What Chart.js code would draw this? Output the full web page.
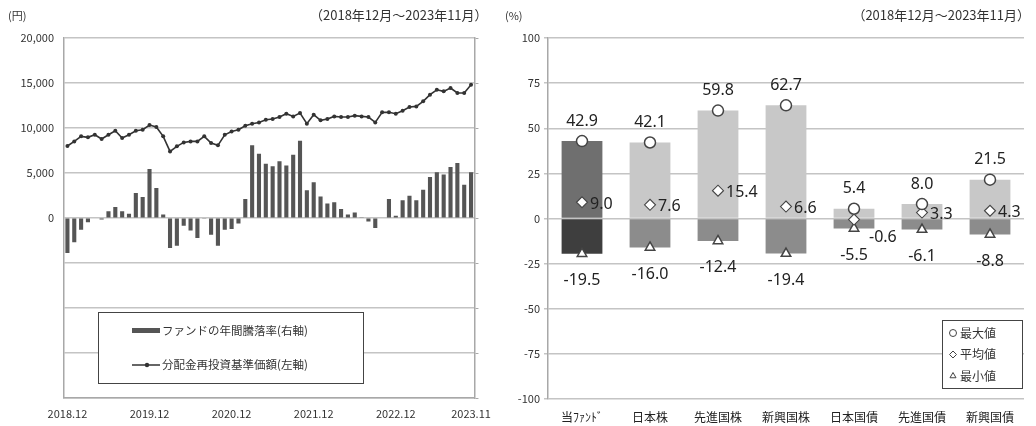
<!DOCTYPE html>
<html>
<head>
<meta charset="utf-8">
<script src="https://cdn.jsdelivr.net/npm/chart.js@4.4.0/dist/chart.umd.min.js"></script>
<style>
  body { margin: 0; background: #fff; }
  #wrap { position: relative; width: 1036px; height: 426px; overflow: hidden;
          font-family: "Noto Sans CJK JP", sans-serif; color: #333; }
  #left { position: absolute; left: 0; top: 0; }
  #right { position: absolute; left: 500px; top: 0; }
  .t { position: absolute; top: 6px; font-size: 13px; line-height: 18px; white-space: nowrap; }
</style>
</head>
<body>
<div id="wrap">
  <canvas id="left" width="500" height="426"></canvas>
  <canvas id="right" width="536" height="426"></canvas>
  <div class="t" style="left:8px;font-size:11px">(円)</div>
  <div class="t" style="left:310px">（2018年12月～2023年11月）</div>
  <div class="t" style="left:505px;font-size:11px">(%)</div>
  <div class="t" style="right:6px">（2018年12月～2023年11月）</div>
</div>
<script>
// --- left: monthly data 2018.12 - 2023.11 ---
const months = [
  '2018.12','2019.01','2019.02','2019.03','2019.04','2019.05','2019.06','2019.07','2019.08','2019.09','2019.10','2019.11',
  '2019.12','2020.01','2020.02','2020.03','2020.04','2020.05','2020.06','2020.07','2020.08','2020.09','2020.10','2020.11',
  '2020.12','2021.01','2021.02','2021.03','2021.04','2021.05','2021.06','2021.07','2021.08','2021.09','2021.10','2021.11',
  '2021.12','2022.01','2022.02','2022.03','2022.04','2022.05','2022.06','2022.07','2022.08','2022.09','2022.10','2022.11',
  '2022.12','2023.01','2023.02','2023.03','2023.04','2023.05','2023.06','2023.07','2023.08','2023.09','2023.10','2023.11'
];
const monthTicks = ['2018.12','2019.12','2020.12','2021.12','2022.12','2023.11'];

// 分配金再投資基準価額 (円, left axis)
const navValues = [
  8000, 8510, 9070, 8960, 9250, 8780, 9250, 9700, 8890, 9250, 9700, 9810,
  10330, 10110, 9070, 7400, 7960, 8400, 8510, 8510, 9070, 8330, 8070, 9250,
  9620, 9810, 10250, 10480, 10620, 10920, 11000, 11220, 11590, 11290, 11670, 10480,
  11480, 10850, 11000, 11290, 11220, 11220, 11370, 11290, 11220, 10620, 11740, 11740,
  11590, 11920, 12330, 12400, 12960, 13700, 14250, 14070, 14440, 13890, 13890, 14810
];
// ファンドの年間騰落率 (%, right axis)
const yearlyReturn = [
  -19.5, -13.5, -6.5, -2.4, -0.3, -0.8, 3.7, 6.1, 3.7, 2.4, 13.9, 11.7,
  27.2, 16.7, 1.9, -16.7, -15.4, -4.3, -6.9, -11.1, -0.2, -9.3, -15.4, -6.5,
  -6.1, -3.1, 10.6, 40.4, 35.7, 30.2, 28.7, 31.5, 29.1, 35.2, 42.9, 15.4,
  19.8, 12.0, 8.0, 8.7, 5.0, 1.9, 3.1, 0.2, -1.9, -5.6, 0.3, 10.6,
  1.3, 9.8, 12.4, 9.8, 15.7, 22.8, 25.4, 24.1, 28.3, 30.6, 18.5, 25.4
];

// --- right: asset class comparison ---
const assets = ['当ﾌｧﾝﾄﾞ', '日本株', '先進国株', '新興国株', '日本国債', '先進国債', '新興国債'];
const maxVals = [42.9, 42.1, 59.8, 62.7, 5.4, 8.0, 21.5];
const avgVals = [9.0, 7.6, 15.4, 6.6, -0.6, 3.3, 4.3];
const minVals = [-19.5, -16.0, -12.4, -19.4, -5.5, -6.1, -8.8];

const FONT = '"Noto Sans CJK JP", sans-serif';
const GRID = '#c4c4c4';
const AXIS = '#a8a8a8';
const TEXT = '#333';

const leftLegend = {
  id: 'leftLegend',
  afterDraw(chart) {
    const c = chart.ctx;
    const ds = chart.data.datasets;
    c.save();
    c.fillStyle = '#fff';
    c.fillRect(98, 312, 265, 71);
    c.strokeStyle = '#444';
    c.lineWidth = 1;
    c.strokeRect(98.5, 312.5, 265, 71);
    c.fillStyle = '#555';
    c.fillRect(132, 328, 28, 5);
    c.strokeStyle = '#333';
    c.lineWidth = 1.5;
    c.beginPath(); c.moveTo(132, 365); c.lineTo(160, 365); c.stroke();
    c.beginPath(); c.arc(147, 365, 2.2, 0, Math.PI * 2); c.fillStyle = '#333'; c.fill();
    c.fillStyle = TEXT;
    c.font = '11.5px ' + FONT;
    c.textBaseline = 'middle';
    c.fillText(ds[1].label, 162, 331);
    c.fillText(ds[0].label, 162, 365);
    c.restore();
  }
};

new Chart(document.getElementById('left'), {
  data: {
    labels: months,
    datasets: [
      {
        type: 'line',
        label: '分配金再投資基準価額(左軸)',
        data: navValues,
        yAxisID: 'y',
        borderColor: '#333',
        borderWidth: 1.6,
        pointRadius: 2,
        pointBackgroundColor: '#333',
        pointBorderWidth: 0,
        tension: 0,
        order: 0
      },
      {
        type: 'bar',
        label: 'ファンドの年間騰落率(右軸)',
        data: yearlyReturn,
        yAxisID: 'y1',
        backgroundColor: '#555',
        barPercentage: 0.6,
        categoryPercentage: 1,
        order: 1
      }
    ]
  },
  options: {
    responsive: false,
    animation: false,
    layout: { padding: { top: 38, left: 0, right: 0, bottom: 0 } },
    plugins: { legend: { display: false }, tooltip: { enabled: false } },
    scales: {
      x: {
        offset: true,
        grid: { display: false, drawTicks: false },
        border: { color: AXIS, width: 1.5 },
        ticks: {
          autoSkip: false, maxRotation: 0, padding: 9,
          color: TEXT, font: { family: FONT, size: 11 },
          callback: (v, i) => monthTicks.includes(months[i]) ? months[i] : null
        },
        afterFit: s => { s.height = 28; }
      },
      y: {
        min: -20000, max: 20000,
        ticks: {
          stepSize: 5000, padding: 10, color: TEXT, font: { family: FONT, size: 11 },
          callback: v => v >= 0 ? v.toLocaleString('en-US') : ''
        },
        grid: { color: GRID, lineWidth: 1.5, drawTicks: false },
        border: { color: AXIS, width: 1.5 },
        afterFit: s => { s.width = 64; }
      },
      y1: {
        position: 'right',
        min: -100, max: 100,
        ticks: { display: false, stepSize: 25 },
        grid: { drawOnChartArea: false, tickLength: 4, color: AXIS },
        border: { color: AXIS, width: 1.5 },
        afterFit: s => { s.width = 13; }
      }
    }
  },
  plugins: [leftLegend]
});

// ---- right chart ----
const rightLabels = {
  id: 'rightLabels',
  afterDatasetsDraw(chart) {
    const c = chart.ctx;
    const mx = chart.getDatasetMeta(0).data;
    const mn = chart.getDatasetMeta(1).data;
    const av = chart.getDatasetMeta(3).data;
    c.save();
    c.fillStyle = '#222';
    c.font = '16px "Noto Sans", sans-serif';
    c.textBaseline = 'middle';
    c.textAlign = 'center';
    maxVals.forEach((v, i) => c.fillText(v.toFixed(1), mx[i].x, mx[i].y - 20));
    minVals.forEach((v, i) => c.fillText(v.toFixed(1), mn[i].x, mn[i].y + 27));
    c.textAlign = 'left';
    avgVals.forEach((v, i) => {
      if (v < 0) c.fillText(v.toFixed(1), av[i].x + 15, av[i].y + 18);
      else c.fillText(v.toFixed(1), av[i].x + 8, av[i].y + 2);
    });
    c.restore();
  },
  afterDraw(chart) {
    const c = chart.ctx;
    const ds = chart.data.datasets;
    c.save();
    c.fillStyle = '#fff';
    c.fillRect(442, 320, 80, 68);
    c.strokeStyle = '#444';
    c.lineWidth = 1;
    c.strokeRect(442.5, 320.5, 80, 68);
    c.font = '12px ' + FONT;
    c.textBaseline = 'middle';
    [2, 3, 4].forEach((k, j) => {
      const y = 333 + j * 21.5;
      c.strokeStyle = '#444';
      c.fillStyle = '#fff';
      c.lineWidth = 1;
      Chart.helpers.drawPoint(c, { pointStyle: ds[k].pointStyle, radius: 3.5, borderWidth: 1 }, 453, y);
      c.fillStyle = TEXT;
      c.fillText(ds[k].label, 460, y);
    });
    c.restore();
  }
};

const isFund = ctx => ctx.dataIndex === 0;
const markerBase = {
  type: 'line', showLine: false,
  pointBackgroundColor: '#fff', pointBorderColor: '#444', pointBorderWidth: 1.5,
  order: 0
};

new Chart(document.getElementById('right'), {
  data: {
    labels: assets,
    datasets: [
      { type: 'bar', label: '最大', data: maxVals, grouped: false, order: 1,
        backgroundColor: ctx => isFund(ctx) ? '#6f6f6f' : '#c8c8c8',
        barPercentage: 0.6, categoryPercentage: 1 },
      { type: 'bar', label: '最小', data: minVals, grouped: false, order: 1,
        backgroundColor: ctx => isFund(ctx) ? '#3e3e3e' : '#8c8c8c',
        barPercentage: 0.6, categoryPercentage: 1 },
      { ...markerBase, label: '最大値', data: maxVals, pointStyle: 'circle', pointRadius: 5.5 },
      { ...markerBase, label: '平均値', data: avgVals, pointStyle: 'rectRot', pointRadius: 5.5, pointBorderWidth: 1.1 },
      { ...markerBase, label: '最小値', data: minVals, pointStyle: 'triangle', pointRadius: 5.5 }
    ]
  },
  options: {
    responsive: false,
    animation: false,
    layout: { padding: { top: 38, left: 0, right: 12, bottom: 0 } },
    plugins: { legend: { display: false }, tooltip: { enabled: false } },
    scales: {
      x: {
        grid: { display: false, drawTicks: false },
        border: { display: false },
        ticks: { padding: 11, color: '#222', font: { family: FONT, size: 12 } },
        afterFit: s => { s.height = 27; }
      },
      y: {
        min: -100, max: 100,
        ticks: { stepSize: 25, padding: 4, color: TEXT, font: { family: FONT, size: 11 } },
        grid: { color: GRID, lineWidth: 1.5, tickLength: 4 },
        border: { color: AXIS, width: 1.5 },
        afterFit: s => { s.width = 48; }
      }
    }
  },
  plugins: [rightLabels]
});
</script>
</body>
</html>
